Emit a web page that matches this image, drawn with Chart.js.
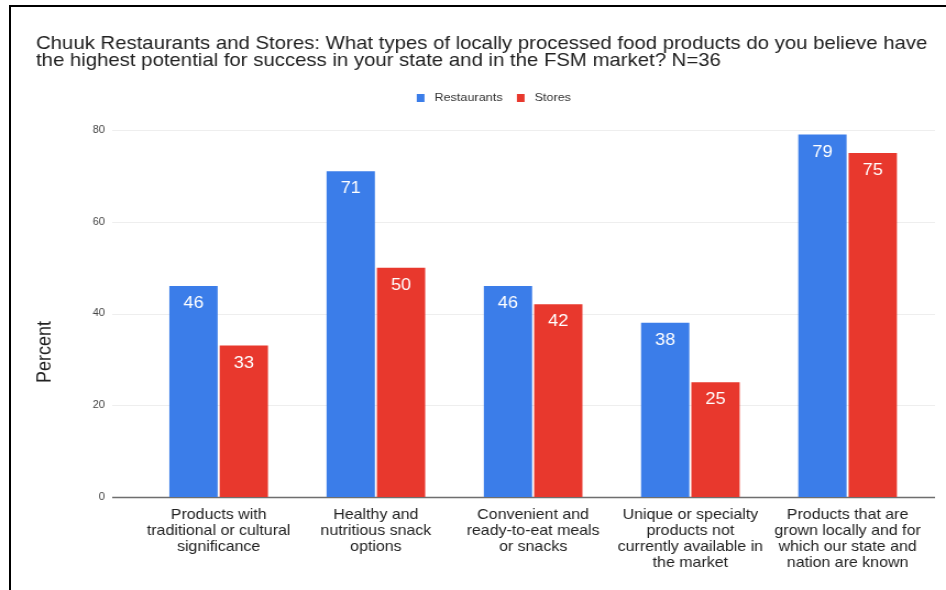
<!DOCTYPE html>
<html>
<head>
<meta charset="utf-8">
<script src="https://cdn.jsdelivr.net/npm/chart.js@4.4.0/dist/chart.umd.min.js"></script>
<style>
  html, body { margin: 0; padding: 0; background: #fff; overflow: hidden; }
  #wrap { position: relative; width: 946px; height: 590px; overflow: hidden; }
  #stretch { position: absolute; left: 0; top: 0; width: 860px; height: 590px;
             transform: scaleX(1.1); transform-origin: 0 0; }
  #frame { position: absolute; left: 9px; top: 5px; right: 0; bottom: 0;
           border-left: 2px solid #000; border-top: 2px solid #000; pointer-events: none; }
</style>
</head>
<body>
<div id="wrap">
  <div id="stretch"><canvas id="c" width="860" height="590"></canvas></div>
  <div id="frame"></div>
</div>
<script>
// Survey categories (multi-line labels)
const categories = [
  ["Products with", "traditional or cultural", "significance"],
  ["Healthy and", "nutritious snack", "options"],
  ["Convenient and", "ready-to-eat meals", "or snacks"],
  ["Unique or specialty", "products not", "currently available in", "the market"],
  ["Products that are", "grown locally and for", "which our state and", "nation are known"]
];
// Percent of respondents
const restaurants = [46, 71, 46, 38, 79];
const stores = [33, 50, 42, 25, 75];
const yTicks = [0, 20, 40, 60, 80];
const seriesNames = ["Restaurants", "Stores"];
const titleLines = [
  "Chuuk Restaurants and Stores: What types of locally processed food products do you believe have",
  "the highest potential for success in your state and in the FSM market? N=36"
];
const yAxisTitle = "Percent";

const BLUE = "#3b7de9";
const RED = "#e8382d";
const FONT = '"Liberation Sans", Arial, sans-serif';

// Horizontal gridlines and baseline, drawn a bit wider than the plot area
const gridPlugin = {
  id: "wideGrid",
  beforeDatasetsDraw(chart) {
    const { ctx } = chart;
    const y = chart.scales.y;
    const x0 = 102, x1 = 850;
    ctx.save();
    yTicks.forEach(v => {
      const py = Math.round(y.getPixelForValue(v)) + 0.5;
      ctx.beginPath();
      ctx.moveTo(x0, py);
      ctx.lineTo(x1, py);
      if (v === 0) {
        ctx.strokeStyle = "#6e6e6e";
        ctx.lineWidth = 1.6;
      } else {
        ctx.strokeStyle = "#eeeeee";
        ctx.lineWidth = 1;
      }
      ctx.stroke();
    });
    ctx.restore();
  }
};

// Value labels inside the top of each bar
const valueLabels = {
  id: "valueLabels",
  afterDatasetsDraw(chart) {
    const { ctx } = chart;
    ctx.save();
    ctx.font = "16.5px " + FONT;
    ctx.fillStyle = "#ffffff";
    ctx.textAlign = "center";
    ctx.textBaseline = "middle";
    chart.data.datasets.forEach((ds, di) => {
      chart.getDatasetMeta(di).data.forEach((bar, i) => {
        ctx.fillText(String(ds.data[i]), bar.x, bar.y + 17.5);
      });
    });
    ctx.restore();
  }
};

// Title, legend and vertical axis title
const decorations = {
  id: "decorations",
  afterDraw(chart) {
    const { ctx } = chart;
    ctx.save();
    ctx.fillStyle = "#222222";
    ctx.font = "18.5px " + FONT;
    ctx.textAlign = "left";
    ctx.textBaseline = "alphabetic";
    ctx.fillText(titleLines[0], 32.7, 49);
    ctx.fillText(titleLines[1], 32.7, 66);

    // legend
    ctx.font = "11.5px " + FONT;
    ctx.textBaseline = "middle";
    const colors = [BLUE, RED];
    const box = 7, gap = 9, spacing = 13;
    const widths = seriesNames.map(n => ctx.measureText(n).width);
    let total = 0;
    widths.forEach((w, i) => { total += box + gap + w + (i ? spacing : 0); });
    let lx = 449 - total / 2;
    const ly = 98;
    seriesNames.forEach((n, i) => {
      ctx.fillStyle = colors[i];
      ctx.fillRect(lx, ly - 4, box, 8);
      ctx.fillStyle = "#333333";
      ctx.fillText(n, lx + box + gap, ly);
      lx += box + gap + widths[i] + spacing;
    });

    // y axis title
    ctx.translate(41, 352);
    ctx.rotate(-Math.PI / 2);
    ctx.font = "18px " + FONT;
    ctx.fillStyle = "#222222";
    ctx.textAlign = "center";
    ctx.fillText(yAxisTitle, 0, 0);
    ctx.restore();
  }
};

new Chart(document.getElementById("c"), {
  type: "bar",
  data: {
    labels: categories,
    datasets: [
      { label: seriesNames[0], data: restaurants, backgroundColor: BLUE },
      { label: seriesNames[1], data: stores, backgroundColor: RED }
    ]
  },
  options: {
    responsive: false,
    animation: false,
    events: [],
    layout: { padding: { left: 81.3, right: 18, top: 130, bottom: 13 } },
    datasets: { bar: { categoryPercentage: 0.64, barPercentage: 0.96 } },
    plugins: { legend: { display: false }, title: { display: false }, tooltip: { enabled: false } },
    scales: {
      x: {
        grid: { display: false, drawTicks: false },
        border: { display: false },
        ticks: {
          color: "#222222",
          padding: 10,
          maxRotation: 0,
          autoSkip: false,
          font: { family: FONT, size: 14.5, lineHeight: "16px" }
        },
        afterFit(scale) { scale.height = 80; }
      },
      y: {
        min: 0,
        max: 80,
        grid: { display: false, drawTicks: false },
        border: { display: false },
        ticks: {
          stepSize: 20,
          color: "#444444",
          padding: 32,
          font: { family: FONT, size: 10 }
        },
        afterFit(scale) { scale.width = 46; }
      }
    }
  },
  plugins: [gridPlugin, valueLabels, decorations]
});
</script>
</body>
</html>
